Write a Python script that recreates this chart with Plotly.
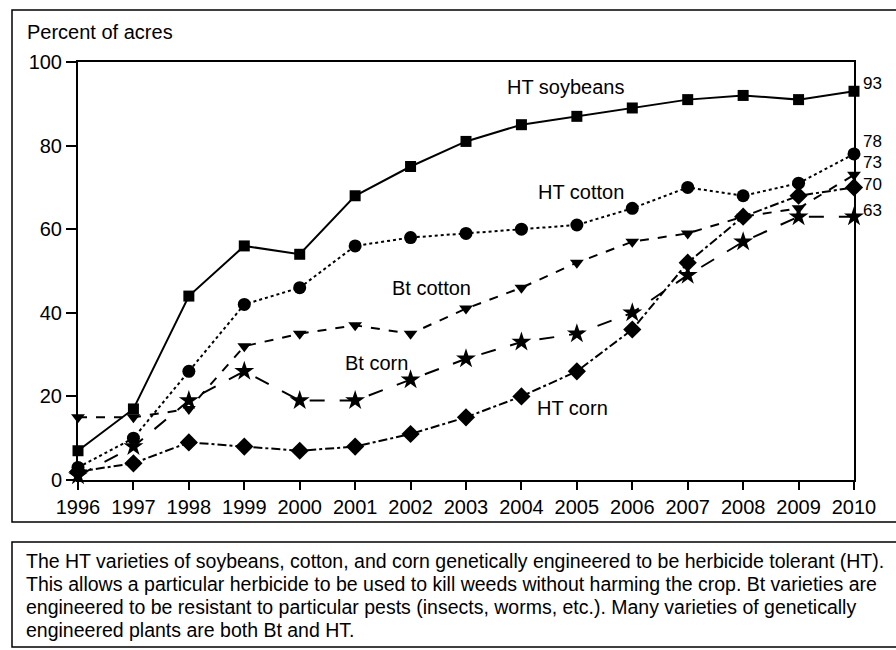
import plotly.graph_objects as go

years = list(range(1996, 2011))
ht_soybeans = [7, 17, 44, 56, 54, 68, 75, 81, 85, 87, 89, 91, 92, 91, 93]
ht_cotton = [3, 10, 26, 42, 46, 56, 58, 59, 60, 61, 65, 70, 68, 71, 78]
bt_cotton = [15, 15, 17, 32, 35, 37, 35, 41, 46, 52, 57, 59, 63, 65, 73]
bt_corn = [1, 8, 19, 26, 19, 19, 24, 29, 33, 35, 40, 49, 57, 63, 63]
ht_corn = [2, 4, 9, 8, 7, 8, 11, 15, 20, 26, 36, 52, 63, 68, 70]

y_ticks = [0, 20, 40, 60, 80, 100]
series_names = ["HT soybeans", "HT cotton", "Bt cotton", "Bt corn", "HT corn"]
end_labels = ["93", "78", "73", "70", "63"]
end_values = [93, 78, 73, 70, 63]
end_shifts = [8, 12, 12, 3, 6]

caption_lines = [
    "The HT varieties of soybeans, cotton, and corn genetically engineered to be herbicide tolerant (HT).",
    "This allows a particular herbicide to be used to kill weeds without harming the crop. Bt varieties are",
    "engineered to be resistant to particular pests (insects, worms, etc.). Many varieties of genetically",
    "engineered plants are both Bt and HT.",
]

FONT = "Liberation Sans, Arial, sans-serif"
W, H = 896, 650
L, R, T, B = 78, 42, 62, 170
PW, PH = W - L - R, H - T - B


def px(x):
    return (x - L) / PW


def py(y):
    return (H - B - y) / PH


fig = go.Figure()

styles = [
    (ht_soybeans, "solid", "square", 11),
    (ht_cotton, "dot", "circle", 13),
    (bt_cotton, "dash", "triangle-down", 12),
    (bt_corn, "longdash", "star", 15),
    (ht_corn, "dashdot", "diamond", 14),
]
for name, (vals, dash, sym, size) in zip(series_names, styles):
    fig.add_trace(go.Scatter(
        x=years, y=vals, name=name, mode="lines+markers",
        line=dict(color="black", width=2, dash=dash),
        marker=dict(color="black", symbol=sym, size=size),
        showlegend=False, cliponaxis=False,
    ))

# series labels
label_pos = [(565, 87), (581, 192), (431, 288), (376, 363), (572, 408)]
for name, (lx, ly) in zip(series_names, label_pos):
    fig.add_annotation(x=px(lx), y=py(ly), xref="paper", yref="paper",
                       text=name, showarrow=False, xanchor="center", yanchor="middle",
                       font=dict(size=20, color="black", family=FONT))

# end labels
for lab, v, s in zip(end_labels, end_values, end_shifts):
    fig.add_annotation(x=2010, y=v, xref="x", yref="y", text=lab, showarrow=False,
                       xanchor="left", yanchor="middle", xshift=7, yshift=s,
                       font=dict(size=17, color="black", family=FONT))

fig.add_annotation(x=px(25), y=py(32), xref="paper", yref="paper",
                   text="Percent of acres", showarrow=False, xanchor="left", yanchor="middle",
                   font=dict(size=20, color="black", family=FONT))

# caption
cap_y = [561, 584, 607, 630]
for line, cy in zip(caption_lines, cap_y):
    fig.add_annotation(x=px(24), y=py(cy), xref="paper", yref="paper",
                       text=line, showarrow=False, xanchor="left", yanchor="middle",
                       font=dict(size=19.5, color="black", family=FONT))

# boxes
fig.add_shape(type="rect", xref="paper", yref="paper",
              x0=px(12), x1=px(905), y0=py(522), y1=py(10),
              line=dict(color="black", width=1.5), layer="below")
fig.add_shape(type="rect", xref="paper", yref="paper",
              x0=px(12), x1=px(905), y0=py(647), y1=py(542),
              line=dict(color="black", width=1.5), layer="below")

fig.update_xaxes(range=[1996, 2010], tickvals=years, ticktext=[str(y) for y in years],
                 ticks="outside", ticklen=8, tickwidth=1.5, tickcolor="black",
                 showline=True, linecolor="black", linewidth=2, mirror=True,
                 showgrid=False, zeroline=False,
                 tickfont=dict(size=20, color="black", family=FONT))
fig.update_yaxes(range=[0, 100], tickvals=y_ticks,
                 ticks="outside", ticklen=10, tickwidth=1.5, tickcolor="black",
                 showline=True, linecolor="black", linewidth=2, mirror=True,
                 showgrid=False, zeroline=False,
                 tickfont=dict(size=20, color="black", family=FONT))

fig.update_layout(width=W, height=H, margin=dict(l=L, r=R, t=T, b=B),
                  paper_bgcolor="white", plot_bgcolor="white",
                  font=dict(family=FONT, color="black"))

fig.write_html("out.html", config={"displayModeBar": False},
               post_script="document.body.style.margin='0';document.body.style.overflow='hidden';")
